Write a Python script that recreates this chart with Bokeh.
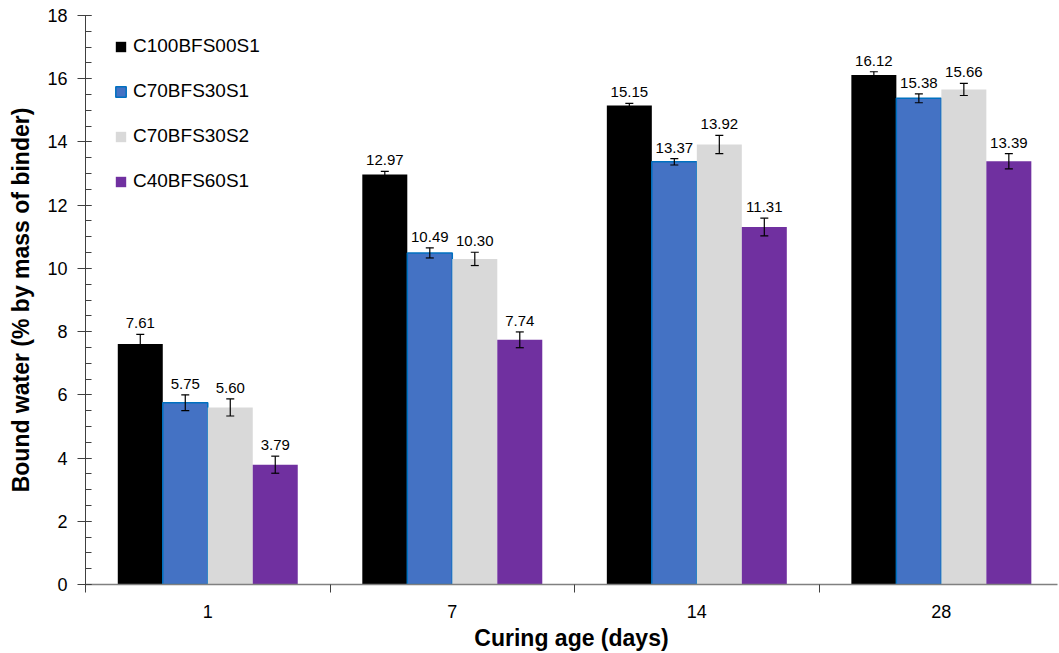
from bokeh.plotting import figure
from bokeh.models import (ColumnDataSource, FixedTicker, SingleIntervalTicker, Whisker,
                          TeeHead, Legend, LegendItem, Range1d)
from bokeh.core.properties import value
from bokeh.embed import file_html
from bokeh.resources import INLINE

ages = ["1", "7", "14", "28"]
series = ["C100BFS00S1", "C70BFS30S1", "C70BFS30S2", "C40BFS60S1"]
c100 = [7.61, 12.97, 15.15, 16.12]
c70s1 = [5.75, 10.49, 13.37, 15.38]
c70s2 = [5.60, 10.30, 13.92, 15.66]
c40 = [3.79, 7.74, 11.31, 13.39]
err_c100 = [0.30, 0.10, 0.07, 0.10]
err_c70s1 = [0.25, 0.16, 0.10, 0.14]
err_c70s2 = [0.27, 0.21, 0.29, 0.19]
err_c40 = [0.27, 0.25, 0.28, 0.24]

values_all = [c100, c70s1, c70s2, c40]
errs_all = [err_c100, err_c70s1, err_c70s2, err_c40]
fills = ["#000000", "#4472C4", "#D9D9D9", "#7030A0"]
edges = [None, "#0070C0", None, None]

FONT = "Liberation Sans"
bar_w = 0.184

p = figure(width=1058, height=653, output_backend="svg", toolbar_location=None,
           x_range=Range1d(0, len(ages) - 0.025), y_range=Range1d(0, 18),
           min_border_left=85, min_border_top=15, min_border_bottom=69, min_border_right=1)
p.xgrid.visible = False
p.ygrid.visible = False
p.outline_line_color = None

centers = [i + 0.5 for i in range(len(ages))]
items = []
for k, (vals, errs) in enumerate(zip(values_all, errs_all)):
    off = (k - 1.5) * bar_w
    xs = [c + off for c in centers]
    src = ColumnDataSource(dict(
        x=xs, top=vals,
        upper=[v + e for v, e in zip(vals, errs)],
        lower=[v - e for v, e in zip(vals, errs)],
        lab=[f"{v:.2f}" for v in vals]))
    r = p.vbar(x="x", top="top", width=bar_w, source=src, fill_color=fills[k],
               line_color=edges[k], line_width=1.5 if edges[k] else 0)
    items.append(LegendItem(label=series[k], renderers=[r]))
    w = Whisker(base="x", upper="upper", lower="lower", source=src, level="overlay",
                line_color="black", line_width=1.2,
                upper_head=TeeHead(size=8, line_color="black", line_width=1.2),
                lower_head=TeeHead(size=8, line_color="black", line_width=1.2))
    p.add_layout(w)
    p.text(x="x", y="upper", text="lab", source=src, text_align="center",
           text_baseline="alphabetic", y_offset=-11, text_font=value(FONT),
           text_font_size="15px", text_color="black")

legend = Legend(items=items, location=(29, 392), padding=0, margin=0,
                spacing=23, glyph_width=13, glyph_height=13, label_height=22,
                label_standoff=6, label_text_font=FONT, label_text_font_size="19px",
                label_text_color="black", border_line_color=None,
                background_fill_alpha=0)
p.add_layout(legend)

# x axis
p.xaxis.ticker = FixedTicker(ticks=centers, minor_ticks=list(range(len(ages) + 1)))
p.xaxis.major_label_overrides = {c: a for c, a in zip(centers, ages)}
p.xaxis.major_tick_in = 0
p.xaxis.major_tick_out = 0
p.xaxis.minor_tick_in = 0
p.xaxis.minor_tick_out = 8
p.xaxis.minor_tick_line_color = "#404040"
p.xaxis.axis_line_color = "#808080"
p.xaxis.axis_line_width = 1.5
p.xaxis.major_label_text_font = FONT
p.xaxis.major_label_text_font_size = "18px"
p.xaxis.major_label_text_color = "black"
p.xaxis.major_label_standoff = 12
p.xaxis.axis_label = "Curing age (days)"
p.xaxis.axis_label_text_font = FONT
p.xaxis.axis_label_text_font_size = "23px"
p.xaxis.axis_label_text_font_style = "bold"
p.xaxis.axis_label_text_color = "black"
p.xaxis.axis_label_standoff = 4

# y axis
p.yaxis.ticker = SingleIntervalTicker(interval=2, num_minor_ticks=4)
p.yaxis.major_tick_in = 6
p.yaxis.major_tick_out = 8
p.yaxis.minor_tick_in = 6
p.yaxis.minor_tick_out = 0
p.yaxis.major_tick_line_color = "#404040"
p.yaxis.minor_tick_line_color = "#404040"
p.yaxis.axis_line_color = "#404040"
p.yaxis.major_label_text_font = FONT
p.yaxis.major_label_text_font_size = "18px"
p.yaxis.major_label_text_color = "black"
p.yaxis.major_label_standoff = 10
p.yaxis.axis_label = "Bound water (% by mass of binder)"
p.yaxis.axis_label_text_font = FONT
p.yaxis.axis_label_text_font_size = "23px"
p.yaxis.axis_label_text_font_style = "bold"
p.yaxis.axis_label_text_color = "black"
p.yaxis.axis_label_standoff = 10

open("out.html", "w").write(file_html(p, INLINE))
